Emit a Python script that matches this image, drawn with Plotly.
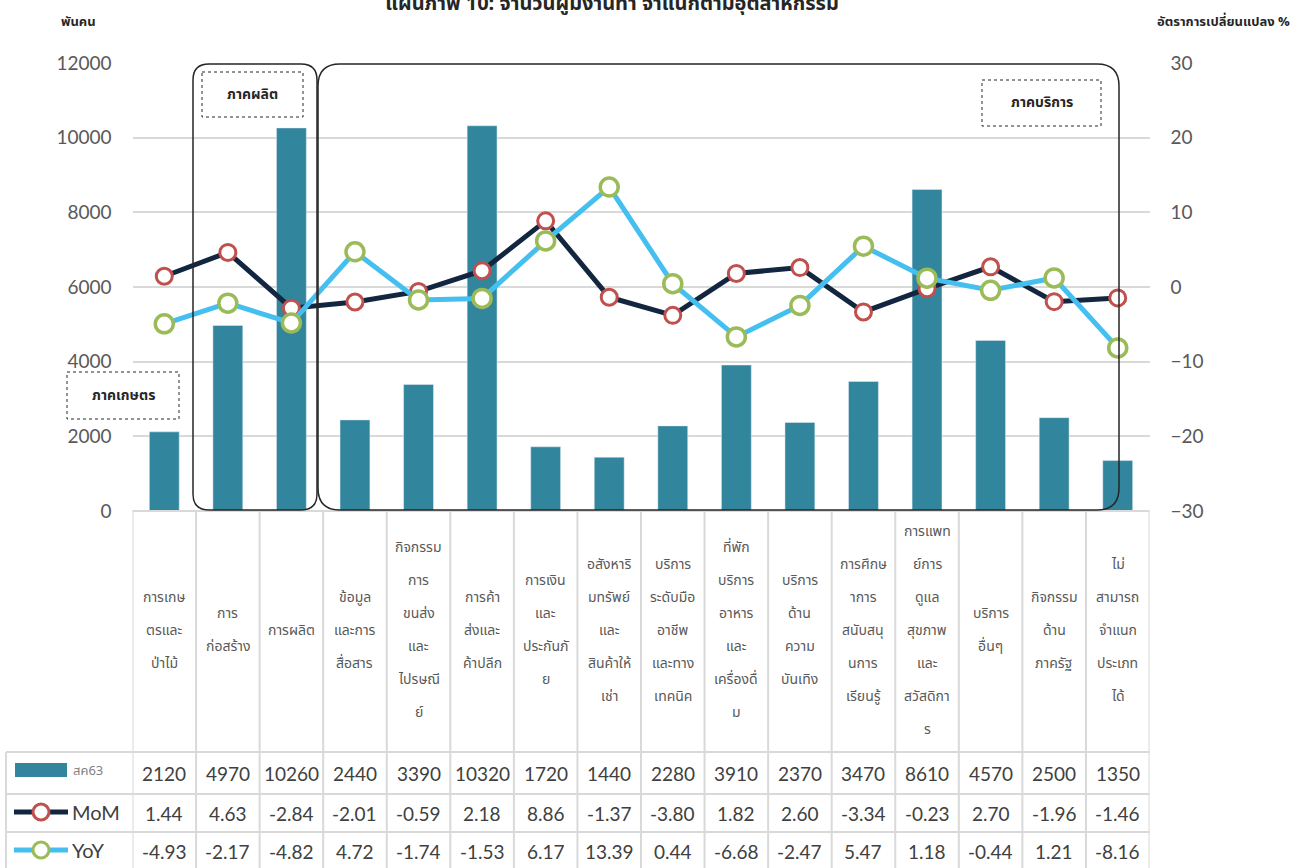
import plotly.graph_objects as go

# --- data -----------------------------------------------------------------
category_lines = [
    ["การเกษ", "ตรและ", "ป่าไม้"],
    ["การ", "ก่อสร้าง"],
    ["การผลิต"],
    ["ข้อมูล", "และการ", "สื่อสาร"],
    ["กิจกรรม", "การ", "ขนส่ง", "และ", "ไปรษณี", "ย์"],
    ["การค้า", "ส่งและ", "ค้าปลีก"],
    ["การเงิน", "และ", "ประกันภั", "ย"],
    ["อสังหาริ", "มทรัพย์", "และ", "สินค้าให้", "เช่า"],
    ["บริการ", "ระดับมือ", "อาชีพ", "และทาง", "เทคนิค"],
    ["ที่พัก", "บริการ", "อาหาร", "และ", "เครื่องดื่", "ม"],
    ["บริการ", "ด้าน", "ความ", "บันเทิง"],
    ["การศึกษ", "าการ", "สนับสนุ", "นการ", "เรียนรู้"],
    ["การแพท", "ย์การ", "ดูแล", "สุขภาพ", "และ", "สวัสดิกา", "ร"],
    ["บริการ", "อื่นๆ"],
    ["กิจกรรม", "ด้าน", "ภาครัฐ"],
    ["ไม่", "สามารถ", "จำแนก", "ประเภท", "ได้"],
]
categories = ["".join(c) for c in category_lines]

employed_aug63 = [2120, 4970, 10260, 2440, 3390, 10320, 1720, 1440,
                  2280, 3910, 2370, 3470, 8610, 4570, 2500, 1350]
mom = [1.44, 4.63, -2.84, -2.01, -0.59, 2.18, 8.86, -1.37,
       -3.80, 1.82, 2.60, -3.34, -0.23, 2.70, -1.96, -1.46]
yoy = [-4.93, -2.17, -4.82, 4.72, -1.74, -1.53, 6.17, 13.39,
       0.44, -6.68, -2.47, 5.47, 1.18, -0.44, 1.21, -8.16]

left_ticks = [0, 2000, 4000, 6000, 8000, 10000, 12000]
right_ticks = [-30, -20, -10, 0, 10, 20, 30]

TITLE = "แผนภาพ 10: จำนวนผู้มีงานทำ จำแนกตามอุตสาหกรรม"

# --- style ----------------------------------------------------------------
W, H = 1310, 868
BAR_C = "#31859C"
MOM_C = "#13263F"
YOY_C = "#45BFEF"
MOM_M = "#C0504D"
YOY_M = "#9BBB59"
GRID_C = "#D9D9D9"
THAI = "Noto Sans Thai, Noto Sans, Tahoma, sans-serif"
NUM = "Lato, Noto Sans, sans-serif"


def px(p):
    return p / W


def py(p):
    return 1 - p / H


def note(x, y, text, font, xref="paper", xanchor="center"):
    return dict(x=x, y=y, xref=xref, yref="paper", xanchor=xanchor, yanchor="middle",
                text=text, showarrow=False, font=font)


X0, X1 = 132.5, 1149.5
Y_TOP, Y_BOT = 63, 511
n = len(categories)

fig = go.Figure()
fig.add_trace(go.Bar(x=categories, y=employed_aug63, marker_color=BAR_C,
                     name="สค63", width=0.47))
fig.add_trace(go.Scatter(x=categories, y=mom, yaxis="y2", name="MoM",
                         mode="lines+markers",
                         line=dict(color=MOM_C, width=5),
                         marker=dict(size=16, color="white",
                                     line=dict(color=MOM_M, width=3))))
fig.add_trace(go.Scatter(x=categories, y=yoy, yaxis="y2", name="YoY",
                         mode="lines+markers",
                         line=dict(color=YOY_C, width=5),
                         marker=dict(size=18, color="white",
                                     line=dict(color=YOY_M, width=3.5))))

shapes = []
annotations = []

# category labels (multi-line, wide spacing)
LINE_H = 33
lab_font = dict(family=THAI, size=14, color="#595959")
for cat, lines in zip(categories, category_lines):
    start = 630 - (len(lines) - 1) * LINE_H / 2
    for k, txt in enumerate(lines):
        annotations.append(note(cat, py(start + k * LINE_H), txt, lab_font, xref="x"))

# data table values
num_font = dict(family=NUM, size=19, color="#404040")
rows = [(employed_aug63, 773, "{:d}"), (mom, 813, "{:.2f}"), (yoy, 851, "{:.2f}")]
for vals, yc, fmt in rows:
    for cat, v in zip(categories, vals):
        annotations.append(note(cat, py(yc), fmt.format(v), num_font, xref="x"))

# table grid
for i in range(n + 1):
    shapes.append(dict(type="line", xref="x", yref="paper", x0=i - 0.5, x1=i - 0.5,
                       y0=py(511), y1=py(870), line=dict(color=GRID_C, width=2)))
for yl in [752, 794, 832]:
    shapes.append(dict(type="line", xref="paper", yref="paper", x0=px(6), x1=px(X1),
                       y0=py(yl), y1=py(yl), line=dict(color=GRID_C, width=2)))
shapes.append(dict(type="line", xref="paper", yref="paper", x0=px(6), x1=px(6),
                   y0=py(752), y1=py(870), line=dict(color=GRID_C, width=2)))
shapes.append(dict(type="line", xref="paper", yref="paper", x0=px(X0), x1=px(X1),
                   y0=py(511), y1=py(511), line=dict(color=GRID_C, width=2)))

# legend keys in the table
shapes.append(dict(type="rect", xref="paper", yref="paper", x0=px(15), x1=px(67),
                   y0=py(763), y1=py(777), fillcolor=BAR_C, line=dict(width=0)))
annotations.append(note(px(71), py(771), "สค63",
                        dict(family=THAI, size=13, color="#7F7F7F"), xanchor="left"))
for yc, lc, mc, label in [(812, MOM_C, MOM_M, "MoM"), (850, YOY_C, YOY_M, "YoY")]:
    shapes.append(dict(type="line", xref="paper", yref="paper", x0=px(14), x1=px(68),
                       y0=py(yc), y1=py(yc), line=dict(color=lc, width=5)))
    shapes.append(dict(type="circle", xref="paper", yref="paper", x0=px(33), x1=px(49),
                       y0=py(yc + 8), y1=py(yc - 8), fillcolor="white",
                       line=dict(color=mc, width=3)))
    annotations.append(note(px(70), py(yc), label,
                            dict(family=NUM, size=20, color="#404040"), xanchor="left"))


# rounded group boxes
def rounded(x0, x1, y0, y1, r):
    rx, ry = r / W, r / H
    a, b = px(x0), px(x1)
    t, u = py(y0), py(y1)  # t top, u bottom (paper)
    return (f"M {a+rx},{t} L {b-rx},{t} Q {b},{t} {b},{t-ry} "
            f"L {b},{u+ry} Q {b},{u} {b-rx},{u} L {a+rx},{u} "
            f"Q {a},{u} {a},{u+ry} L {a},{t-ry} Q {a},{t} {a+rx},{t} Z")


shapes.append(dict(type="path", xref="paper", yref="paper",
                   path=rounded(193, 317, 64, 510, 16),
                   line=dict(color="#262626", width=1.5), layer="above"))
shapes.append(dict(type="path", xref="paper", yref="paper",
                   path=rounded(318, 1119, 64, 510, 22),
                   line=dict(color="#262626", width=1.5), layer="above"))

# dotted sector labels
box_font = dict(family=THAI, size=14, color="#262626")
for x0, x1, y0, y1, txt in [(202, 303, 72, 117, "ภาคผลิต"),
                            (982, 1101, 80, 126, "ภาคบริการ"),
                            (67, 179, 372, 419, "ภาคเกษตร")]:
    shapes.append(dict(type="rect", xref="paper", yref="paper", x0=px(x0), x1=px(x1),
                       y0=py(y0), y1=py(y1), fillcolor="white",
                       line=dict(color="#262626", width=1, dash="dot"), layer="above"))
    annotations.append(note(px((x0 + x1) / 2), py((y0 + y1) / 2), f"<b>{txt}</b>", box_font))

# axis titles
ax_font = dict(family=THAI, size=13, color="#262626")
annotations.append(note(px(78), py(22), "<b>พันคน</b>", ax_font))
annotations.append(note(px(1292), py(22), "<b>อัตราการเปลี่ยนแปลง %</b>", ax_font,
                        xanchor="right"))

fig.update_layout(
    width=W, height=H,
    margin=dict(l=0, r=0, t=0, b=0, autoexpand=False),
    title=dict(text=f"<b>{TITLE}</b>", x=px(612), xanchor="center", y=1 - 3 / H,
               yref="container", yanchor="middle", pad=dict(t=0, b=0),
               font=dict(family=THAI, size=20, color="#262626")),
    paper_bgcolor="white", plot_bgcolor="white",
    showlegend=False,
    bargap=0.53,
    xaxis=dict(domain=[px(X0), px(X1)], range=[-0.5, n - 0.5],
               categoryorder="array", categoryarray=categories,
               showticklabels=False, showgrid=False, zeroline=False, showline=False,
               ticks=""),
    yaxis=dict(domain=[py(Y_BOT), py(Y_TOP)], range=[0, 12000], tickvals=left_ticks,
               tickformat="d",
               showgrid=True, gridcolor=GRID_C, gridwidth=1.5, zeroline=False,
               ticklabelstandoff=20,
               tickfont=dict(family=NUM, size=19, color="#595959")),
    yaxis2=dict(overlaying="y", side="right", range=[-30, 30], tickvals=right_ticks,
                showgrid=False, zeroline=False, ticklabelstandoff=20,
                tickfont=dict(family=NUM, size=19, color="#595959")),
    shapes=shapes,
    annotations=annotations,
)

fig.write_html("out.html", config={"displayModeBar": False},
               post_script="document.body.style.margin='0px';")
